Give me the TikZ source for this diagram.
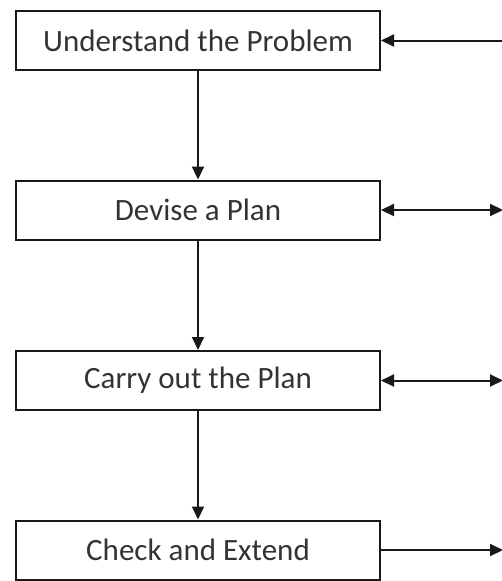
\documentclass[tikz,border=0pt]{standalone}
\usepackage{fontspec}
\setmainfont{Carlito}
\usetikzlibrary{arrows.meta}
\begin{document}
\begin{tikzpicture}[x=1pt,y=1pt,
  stepbox/.style={draw=black!90,line width=2pt,minimum width=364pt,minimum height=59pt,inner sep=0pt,
    font=\fontsize{31}{34}\selectfont,text=black!80},
  conn/.style={draw=black!90,line width=2pt,-{Triangle[length=13pt,width=12pt]}},
  dconn/.style={draw=black!90,line width=2pt,{Triangle[length=13pt,width=12pt]}-{Triangle[length=13pt,width=12pt]}}]
\useasboundingbox (0,0) rectangle (502,-581);
\node[stepbox] (b1) at (198,-40.5) {Understand the Problem};
\node[stepbox] (b2) at (198,-210) {Devise a Plan};
\node[stepbox] (b3) at (198,-380.5) {Carry out the Plan};
\node[stepbox] (b4) at (198,-550) {Check and Extend};
\coordinate (r1) at (503,-40.5);
\coordinate (r2) at (503,-210);
\coordinate (r3) at (503,-380.5);
\coordinate (r4) at (503,-550);
\draw[conn] (b1) -- (b2);
\draw[conn] (b2) -- (b3);
\draw[conn] (b3) -- (b4);
\draw[conn] (r1) -- (b1.east);
\draw[dconn] (b2.east) -- (r2);
\draw[dconn] (b3.east) -- (r3);
\draw[conn] (b4.east) -- (r4);
\end{tikzpicture}
\end{document}
